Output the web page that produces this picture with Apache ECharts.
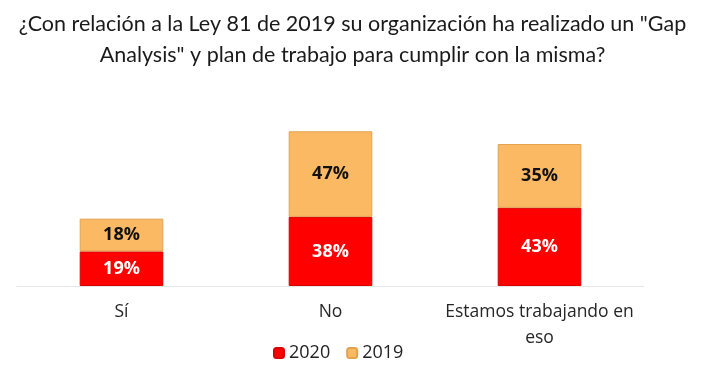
<!DOCTYPE html>
<html><head><meta charset="utf-8">
<script src="https://cdn.jsdelivr.net/npm/echarts@6/dist/echarts.min.js"></script>
<style>html,body{margin:0;padding:0;background:#fff}#c{width:705px;height:389px}</style>
</head><body><div id="c"></div>
<script>
const titleText = '¿Con relación a la Ley 81 de 2019 su organización ha realizado un "Gap\nAnalysis" y plan de trabajo para cumplir con la misma?';
const categories = ['Sí', 'No', 'Estamos trabajando en\neso'];
const values2020 = [19, 38, 43];
const values2019 = [18, 47, 35];
const seriesNames = ['2020', '2019'];

const chart = echarts.init(document.getElementById('c'));
chart.setOption({
  animation: false,
  title: {
    text: titleText, left: 'center', top: 4,
    textStyle: {fontFamily: 'Lato', fontSize: 21.5, fontWeight: 'normal', color: '#1a1a1a', lineHeight: 31}
  },
  legend: {
    bottom: 22, left: 268, itemWidth: 10, itemHeight: 10, itemGap: 16,
    data: seriesNames,
    textStyle: {fontFamily: 'Open Sans', fontSize: 18, color: '#222'}
  },
  grid: {left: 17, right: 61, top: 104, bottom: 103},
  xAxis: {
    type: 'category', data: categories,
    axisTick: {show: false},
    axisLine: {lineStyle: {color: '#e6e6e6'}},
    axisLabel: {interval: 0, fontFamily: 'Open Sans', fontSize: 17.5, color: '#262626', margin: 13, lineHeight: 26}
  },
  yAxis: {type: 'value', min: 0, max: 100, show: false},
  series: [
    {
      name: seriesNames[0], type: 'bar', stack: 's', data: values2020, barWidth: '40%',
      itemStyle: {color: '#ff0000', borderColor: '#d80000', borderWidth: 1},
      label: {show: true, formatter: '{c}%', color: '#fff', fontWeight: 'bold', fontSize: 18, fontFamily: 'Open Sans'}
    },
    {
      name: seriesNames[1], type: 'bar', stack: 's', data: values2019,
      itemStyle: {color: '#fcb964', borderColor: '#e3a24f', borderWidth: 1},
      label: {show: true, formatter: '{c}%', color: '#111', fontWeight: 'bold', fontSize: 18, fontFamily: 'Open Sans'}
    }
  ]
});
</script></body></html>
